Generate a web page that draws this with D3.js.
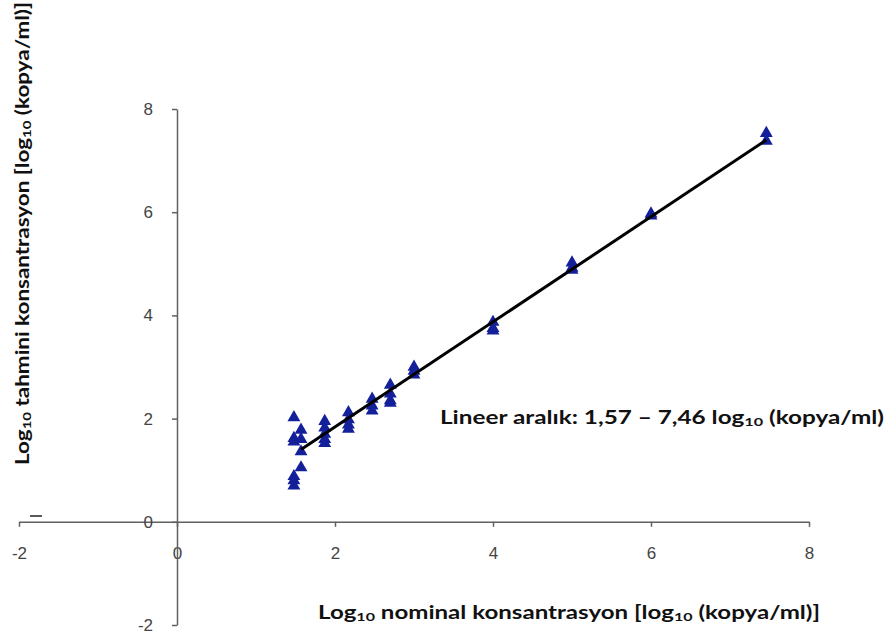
<!DOCTYPE html>
<html>
<head>
<meta charset="utf-8">
<script src="https://cdn.jsdelivr.net/npm/d3@7"></script>
<style>
  body { margin: 0; background: #fff; }
  svg { display: block; }
  .axis path, .axis line { stroke: #606060; stroke-width: 1.5; }
  .axis text { fill: #444; font-family: "Liberation Sans", sans-serif; font-size: 17px; }
  .lbl { font-family: "Lato", "Liberation Sans", sans-serif; font-weight: bold; fill: #111; }
</style>
</head>
<body>
<div id="chart"></div>
<script>

// nominal vs estimated (log10 copies/ml)
var nominal = [1.48, 1.48, 1.48, 1.48, 1.48, 1.48,
               1.57, 1.57, 1.57, 1.57,
               1.87, 1.87, 1.87, 1.87, 1.87,
               2.17, 2.17, 2.17, 2.17,
               2.47, 2.47, 2.47,
               2.70, 2.70, 2.70, 2.70,
               3.00, 3.00, 3.00,
               4.00, 4.00, 4.00,
               5.00, 5.00, 5.00,
               6.00, 6.00,
               7.46, 7.46];
var estimated = [2.02, 1.62, 1.55, 0.88, 0.80, 0.70,
                 1.78, 1.60, 1.36, 1.05,
                 1.95, 1.82, 1.70, 1.60, 1.52,
                 2.12, 1.98, 1.88, 1.80,
                 2.38, 2.25, 2.15,
                 2.65, 2.48, 2.35, 2.30,
                 3.00, 2.92, 2.85,
                 3.87, 3.75, 3.70,
                 5.02, 4.92, 4.88,
                 5.97, 5.93,
                 7.53, 7.38];

var fitX = [1.57, 7.46];
var fitY = [1.40, 7.40];

var xTicks = [-2, 0, 2, 4, 6, 8];
var yTicks = [-2, 0, 2, 4, 6, 8];

var svgWidth = 886, svgHeight = 641;

var svg = d3.select("#chart").append("svg")
    .attr("width", svgWidth)
    .attr("height", svgHeight);

var x = d3.scaleLinear().domain([-2, 8]).range([19, 809]);
var y = d3.scaleLinear().domain([-2, 8]).range([625, 109]);

// plain hyphen for negatives, like the original
var fmt = function(d) { return String(d); };

// axes cross at the origin
svg.append("g")
    .attr("class", "axis")
    .attr("transform", "translate(0," + y(0) + ")")
    .call(d3.axisBottom(x).tickValues(xTicks).tickSize(5).tickSizeOuter(0).tickPadding(20).tickFormat(fmt));

svg.append("g")
    .attr("class", "axis")
    .attr("transform", "translate(" + x(0) + ",0)")
    .call(d3.axisLeft(y).tickValues(yTicks).tickSize(5).tickSizeOuter(0).tickPadding(19).tickFormat(fmt));

svg.selectAll(".axis .domain").attr("fill", "none");

// stray dash left of the axis
svg.append("line")
    .attr("x1", 30).attr("x2", 42)
    .attr("y1", 516).attr("y2", 516)
    .attr("stroke", "#222").attr("stroke-width", 1.5);

// points
var tri = d3.symbol().type(d3.symbolTriangle).size(72);
svg.append("g").selectAll("path")
    .data(d3.range(nominal.length))
    .enter().append("path")
    .attr("d", tri)
    .attr("transform", function(i) { return "translate(" + x(nominal[i]) + "," + y(estimated[i]) + ")"; })
    .attr("fill", "#14209a");

// linear range line
svg.append("line")
    .attr("x1", x(fitX[0])).attr("y1", y(fitY[0]))
    .attr("x2", x(fitX[1])).attr("y2", y(fitY[1]))
    .attr("stroke", "#000")
    .attr("stroke-width", 3);

// x axis title
var xt = svg.append("text").attr("class", "lbl")
    .attr("x", 318).attr("y", 619)
    .attr("font-size", 18)
    .attr("textLength", 502).attr("lengthAdjust", "spacingAndGlyphs");
xt.append("tspan").text("Log");
xt.append("tspan").attr("font-size", 12).attr("dy", 2).text("10");
xt.append("tspan").attr("dy", -2).text(" nominal konsantrasyon [log");
xt.append("tspan").attr("font-size", 12).attr("dy", 2).text("10");
xt.append("tspan").attr("dy", -2).text(" (kopya/ml)]");

// y axis title
var yt = svg.append("text").attr("class", "lbl")
    .attr("transform", "translate(29,465) rotate(-90)")
    .attr("font-size", 18)
    .attr("textLength", 463).attr("lengthAdjust", "spacingAndGlyphs");
yt.append("tspan").text("Log");
yt.append("tspan").attr("font-size", 12).attr("dy", 2).text("10");
yt.append("tspan").attr("dy", -2).text(" tahmini konsantrasyon [log");
yt.append("tspan").attr("font-size", 12).attr("dy", 2).text("10");
yt.append("tspan").attr("dy", -2).text(" (kopya/ml)]");

// annotation
var at = svg.append("text").attr("class", "lbl")
    .attr("x", 440).attr("y", 424)
    .attr("font-size", 18)
    .attr("textLength", 444).attr("lengthAdjust", "spacingAndGlyphs");
at.append("tspan").text("Lineer aralık: 1,57 – 7,46 log");
at.append("tspan").attr("font-size", 12).attr("dy", 2).text("10");
at.append("tspan").attr("dy", -2).text(" (kopya/ml)");

</script>
</body>
</html>
